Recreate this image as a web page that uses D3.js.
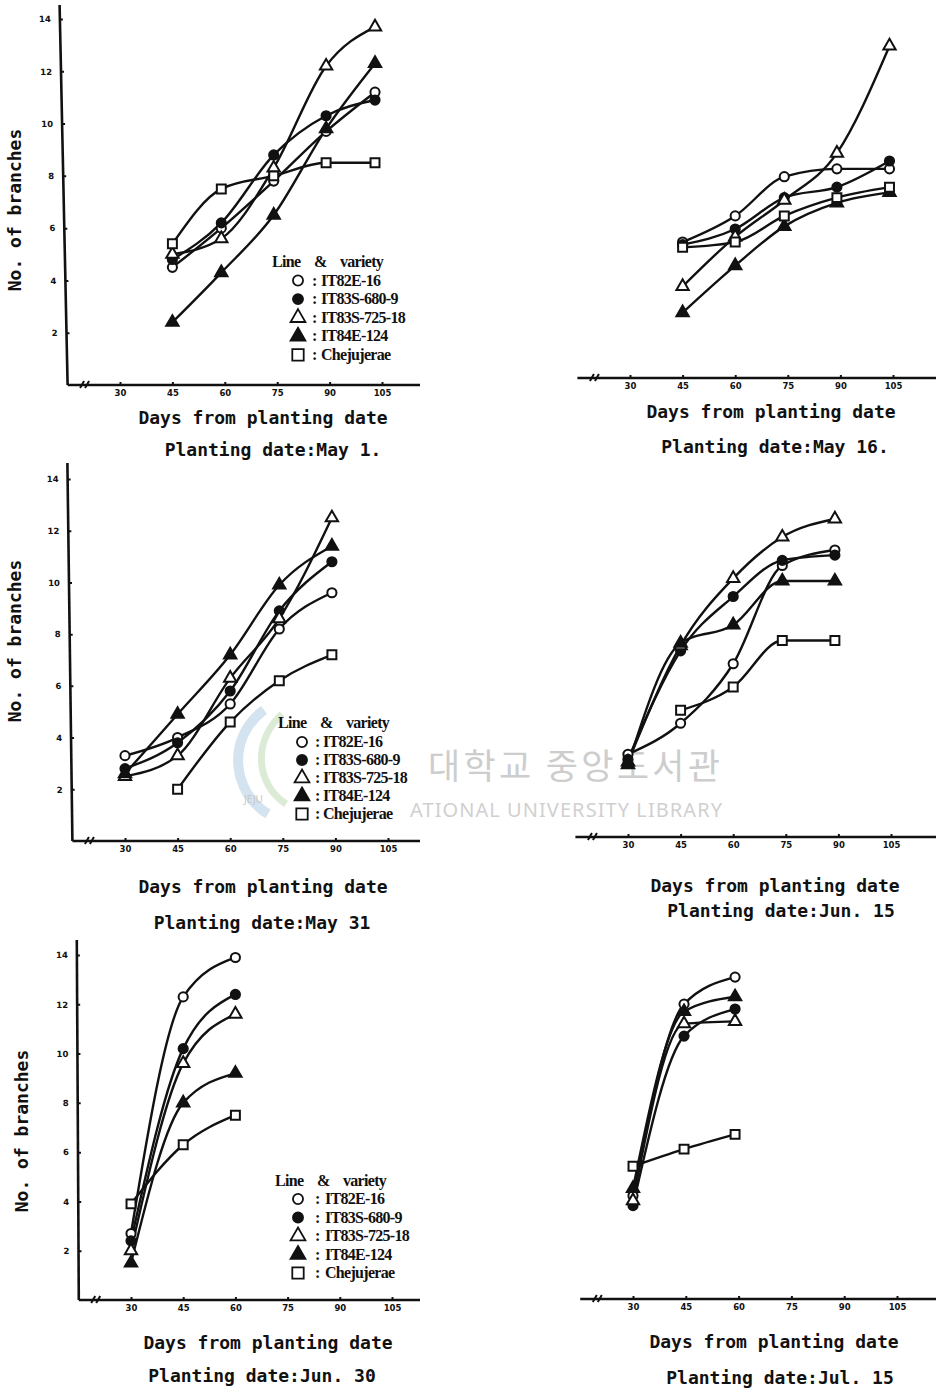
<!DOCTYPE html>
<html>
<head>
<meta charset="utf-8">
<script src="https://cdn.jsdelivr.net/npm/d3@7"></script>
<style>
  body { margin: 0; background: #fff; }
  svg { display: block; }
  .title { font-family: "DejaVu Sans Mono", monospace; font-weight: bold; font-size: 18px; fill: #111; }
  .tick text { font-family: "DejaVu Sans", sans-serif; font-weight: bold; font-size: 8.5px; fill: #111; }
  .legend text { font-family: "Liberation Serif", serif; font-weight: bold; font-size: 16px; fill: #111; letter-spacing: -0.7px; }
</style>
</head>
<body>
<div id="chart"></div>
<script>
// ---- data ----
const varieties = ["IT82E-16", "IT83S-680-9", "IT83S-725-18", "IT84E-124", "Chejujerae"];
const markerShapes = ["circle", "circle", "triangle", "triangle", "square"];
const markerFilled = [false, true, false, true, false];

const dayTicks = [30, 45, 60, 75, 90, 105];
const branchTicks = [2, 4, 6, 8, 10, 12, 14];

const plantingDates = ["May 1.", "May 16.", "May 31", "Jun. 15", "Jun. 30", "Jul. 15"];

// rows follow the order of `varieties`
const daysMay1 = [45, 59, 74, 89, 103];
const branchesMay1 = [
  [4.5, 6.0, 7.8, 9.7, 11.2],
  [4.8, 6.2, 8.8, 10.3, 10.9],
  [5.0, 5.6, 8.3, 12.2, 13.7],
  [2.4, 4.3, 6.5, 9.8, 12.3],
  [5.4, 7.5, 8.0, 8.5, 8.5]
];

const daysMay16 = [45, 60, 74, 89, 104];
const branchesMay16 = [
  [5.2, 6.2, 7.7, 8.0, 8.0],
  [5.1, 5.7, 6.9, 7.3, 8.3],
  [3.5, 5.4, 6.8, 8.6, 12.7],
  [2.5, 4.3, 5.8, 6.7, 7.1],
  [5.0, 5.2, 6.2, 6.9, 7.3]
];

const daysMay31 = [30, 45, 60, 74, 89];
const branchesMay31 = [
  [3.3, 4.0, 5.3, 8.2, 9.6],
  [2.8, 3.8, 5.8, 8.9, 10.8],
  [2.5, 3.3, 6.3, 8.6, 12.5],
  [2.6, 4.9, 7.2, 9.9, 11.4],
  [null, 2.0, 4.6, 6.2, 7.2]
];

const daysJun15 = [30, 45, 60, 74, 89];
const branchesJun15 = [
  [3.2, 4.4, 6.7, 10.5, 11.1],
  [3.0, 7.2, 9.3, 10.7, 10.9],
  [2.9, 7.4, 10.0, 11.6, 12.3],
  [2.8, 7.5, 8.2, 9.9, 9.9],
  [null, 4.9, 5.8, 7.6, 7.6]
];

const daysJun30 = [30, 45, 60];
const branchesJun30 = [
  [2.7, 12.3, 13.9],
  [2.4, 10.2, 12.4],
  [2.0, 9.6, 11.6],
  [1.5, 8.0, 9.2],
  [3.9, 6.3, 7.5]
];

const daysJul15 = [30, 44.5, 59];
const branchesJul15 = [
  [4.2, 12.0, 13.1],
  [3.8, 10.7, 11.8],
  [4.0, 11.2, 11.3],
  [4.5, 11.7, 12.3],
  [5.4, 6.1, 6.7]
];

const panelDays = [daysMay1, daysMay16, daysMay31, daysJun15, daysJun30, daysJul15];
const panelBranches = [branchesMay1, branchesMay16, branchesMay31, branchesJun15, branchesJun30, branchesJul15];

// ---- layout of the six panels (page pixels) ----
const layout = [
  { x15: 67.6, x105: 382, axisY: 385, y14: 19, right: 420, top: 5, lean: 8, yAxis: true,
    legend: { x: 272, y: 262, row: 280.5, step: 18.6, sym: 298, colon: 312, text: 321 },
    titleX: 263, titleY: 424, subX: 273, subY: 456, yTitleX: 15, yTitleY: 210 },
  { x15: 577.4, x105: 893, axisY: 378, y14: 12, right: 936, yAxis: false,
    titleX: 771, titleY: 418, subX: 775, subY: 453 },
  { x15: 72.4, x105: 388, axisY: 841, y14: 479, right: 420, top: 463, lean: 5, yAxis: true,
    legend: { x: 278, y: 723, row: 742, step: 18, sym: 302, colon: 315, text: 323 },
    titleX: 263, titleY: 893, subX: 262, subY: 929, yTitleX: 15, yTitleY: 641 },
  { x15: 575.4, x105: 891, axisY: 837, y14: 475, right: 936, yAxis: false,
    titleX: 775, titleY: 892, subX: 781, subY: 917 },
  { x15: 78.8, x105: 392, axisY: 1300, y14: 955, right: 420, top: 940, lean: 2, yAxis: true,
    legend: { x: 275, y: 1181, row: 1199, step: 18.5, sym: 298, colon: 315, text: 325 },
    titleX: 268, titleY: 1349, subX: 262, subY: 1382, yTitleX: 22, yTitleY: 1131 },
  { x15: 580.2, x105: 897, axisY: 1299, y14: 955, right: 936, yAxis: false,
    titleX: 774, titleY: 1348, subX: 780, subY: 1384 }
];

const W = 936, H = 1390;
const svg = d3.select("#chart").append("svg").attr("width", W).attr("height", H);

// faint library watermark behind the middle row
function drawWatermark() {
  const wm = svg.append("g").attr("class", "watermark");
  wm.append("path")
    .attr("d", "M264,710 C226,738 232,792 268,814")
    .attr("fill", "none").attr("stroke", "#d3e3ef").attr("stroke-width", 10);
  wm.append("path")
    .attr("d", "M282,714 C252,742 256,784 286,804")
    .attr("fill", "none").attr("stroke", "#dcebd6").attr("stroke-width", 7);
  wm.append("text").attr("x", 244).attr("y", 803)
    .style("font-family", "Noto Sans").style("font-size", "10px").style("fill", "#c8c8c8")
    .text("JEJU");
  wm.append("text").attr("x", 428).attr("y", 779).attr("textLength", 292)
    .style("font-family", "Noto Sans CJK KR").style("font-size", "35px").style("fill", "#cdcdcd")
    .text("대학교 중앙도서관");
  wm.append("text").attr("x", 410).attr("y", 817).attr("textLength", 312)
    .style("font-family", "Noto Sans").style("font-size", "20px").style("fill", "#d0d0d0")
    .text("ATIONAL UNIVERSITY  LIBRARY");
}
drawWatermark();

function markerPath(i, size) {
  const type = markerShapes[i] === "circle" ? d3.symbolCircle
    : markerShapes[i] === "triangle" ? d3.symbolTriangle : d3.symbolSquare;
  return d3.symbol().type(type).size(size)();
}

function drawPanel(p, k) {
  const g = svg.append("g").attr("class", "panel");
  const x = d3.scaleLinear().domain([15, 105]).range([p.x15, p.x105]);
  const y = d3.scaleLinear().domain([0, 14]).range([p.axisY, p.y14]);

  // x axis
  g.append("line")
    .attr("x1", p.x15).attr("x2", p.right)
    .attr("y1", p.axisY).attr("y2", p.axisY)
    .attr("stroke", "#111").attr("stroke-width", 2.6);
  const xAxis = g.append("g")
    .attr("transform", `translate(0,${p.axisY})`)
    .call(d3.axisBottom(x).tickValues(dayTicks).tickSize(-3).tickPadding(5));
  xAxis.select(".domain").remove();
  xAxis.selectAll(".tick line").attr("stroke", "#111").attr("stroke-width", 2);

  // axis break mark
  const bx = x(20);
  g.append("path")
    .attr("d", `M${bx - 5},${p.axisY + 3} L${bx - 1},${p.axisY - 4} M${bx},${p.axisY + 3} L${bx + 4},${p.axisY - 4}`)
    .attr("stroke", "#111").attr("stroke-width", 2).attr("fill", "none");

  // y axis (slightly leaning, as in the scan)
  if (p.yAxis) {
    const h = p.axisY - p.top;
    const skew = Math.atan(p.lean / h) * 180 / Math.PI;
    const yg = g.append("g")
      .attr("transform", `translate(${p.x15},${p.axisY}) skewX(${skew}) translate(0,${-p.axisY})`);
    yg.append("line")
      .attr("x1", 0).attr("x2", 0).attr("y1", p.axisY).attr("y2", p.top)
      .attr("stroke", "#111").attr("stroke-width", 2.6);
    const yAxis = yg.append("g")
      .call(d3.axisLeft(y).tickValues(branchTicks).tickSize(-3).tickPadding(9));
    yAxis.select(".domain").remove();
    yAxis.selectAll(".tick line").attr("stroke", "#111").attr("stroke-width", 2);

    g.append("text").attr("class", "title")
      .attr("transform", `translate(${p.yTitleX + 6},${p.yTitleY}) rotate(-90)`)
      .attr("text-anchor", "middle")
      .text("No. of branches");
  }

  // series
  const line = d3.line()
    .defined(d => d.v != null)
    .x(d => x(d.day)).y(d => y(d.v))
    .curve(d3.curveMonotoneX);

  const days = panelDays[k];
  panelBranches[k].forEach((vals, i) => {
    const pts = days.map((day, j) => ({ day: day, v: vals[j] }));
    g.append("path")
      .datum(pts)
      .attr("d", line)
      .attr("fill", "none")
      .attr("stroke", "#111")
      .attr("stroke-width", 2.4);
  });
  panelBranches[k].forEach((vals, i) => {
    const pts = days.map((day, j) => ({ day: day, v: vals[j] })).filter(d => d.v != null);
    g.selectAll(null)
      .data(pts)
      .join("path")
      .attr("transform", d => `translate(${x(d.day)},${y(d.v)})`)
      .attr("d", markerPath(i, markerShapes[i] === "square" ? 80 : 66))
      .attr("fill", markerFilled[i] ? "#111" : "#fff")
      .attr("stroke", "#111")
      .attr("stroke-width", 2);
  });

  // titles
  g.append("text").attr("class", "title")
    .attr("x", p.titleX).attr("y", p.titleY).attr("text-anchor", "middle")
    .text("Days from planting date");
  g.append("text").attr("class", "title")
    .attr("x", p.subX).attr("y", p.subY).attr("text-anchor", "middle")
    .text("Planting date:" + plantingDates[k]);

  // legend
  if (p.legend) {
    const L = p.legend;
    const lg = g.append("g").attr("class", "legend");
    lg.append("text").attr("x", L.x).attr("y", L.y + 5).text("Line");
    lg.append("text").attr("x", L.x + 42).attr("y", L.y + 5).text("&");
    lg.append("text").attr("x", L.x + 68).attr("y", L.y + 5).text("variety");
    varieties.forEach((name, i) => {
      const cy = L.row + i * L.step;
      lg.append("path")
        .attr("transform", `translate(${L.sym},${cy})`)
        .attr("d", markerPath(i, markerShapes[i] === "square" ? 130 : markerShapes[i] === "triangle" ? 95 : 80))
        .attr("fill", markerFilled[i] ? "#111" : "#fff")
        .attr("stroke", "#111")
        .attr("stroke-width", 1.8);
      lg.append("text").attr("x", L.colon).attr("y", cy + 5).text(":");
      lg.append("text").attr("x", L.text).attr("y", cy + 5).text(name);
    });
  }
}

layout.forEach(drawPanel);
</script>
</body>
</html>
